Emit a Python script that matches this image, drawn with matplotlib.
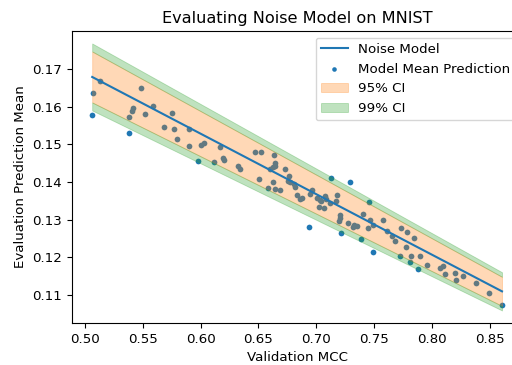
import matplotlib
matplotlib.use("Agg")
import matplotlib.pyplot as plt
import numpy as np

# Model mean predictions (validation MCC vs evaluation prediction mean)
mcc = [0.5064, 0.5075, 0.5135, 0.5489, 0.5383, 0.5409, 0.5420, 0.5386, 0.5518, 0.5587,
       0.5682, 0.5754, 0.5768, 0.5797, 0.5897, 0.5901, 0.6004, 0.6027, 0.5975, 0.6119,
       0.6171, 0.6191, 0.6205, 0.6323, 0.6337, 0.6467, 0.6518, 0.6637, 0.6505, 0.6639,
       0.6639, 0.6628, 0.6596, 0.6725, 0.6625, 0.6579, 0.6645, 0.6688, 0.6760, 0.6751,
       0.6775, 0.6806, 0.6815, 0.6829, 0.6875, 0.6861, 0.6962, 0.6947, 0.7005, 0.7027,
       0.7039, 0.7077, 0.7085, 0.7022, 0.7070, 0.7120, 0.7177, 0.7169, 0.7128, 0.7292,
       0.6936, 0.7206, 0.7200, 0.7197, 0.7269, 0.7210, 0.7321, 0.7315, 0.7355, 0.7402,
       0.7456, 0.7465, 0.7450, 0.7493, 0.7384, 0.7491, 0.7579, 0.7609, 0.7652, 0.7678,
       0.7730, 0.7786, 0.7844, 0.7778, 0.7726, 0.7816, 0.7812, 0.7896, 0.7879, 0.7959,
       0.8071, 0.8092, 0.8114, 0.8201, 0.8207, 0.8270, 0.8377, 0.8494, 0.8603]
pred_mean = [0.1577, 0.1636, 0.1668, 0.1649, 0.1573, 0.1588, 0.1596, 0.1529, 0.1582, 0.1603,
             0.1547, 0.1584, 0.1542, 0.1514, 0.1541, 0.1497, 0.1498, 0.1504, 0.1457, 0.1452,
             0.1493, 0.1464, 0.1458, 0.1443, 0.1436, 0.1480, 0.1481, 0.1473, 0.1409, 0.1450,
             0.1443, 0.1439, 0.1434, 0.1436, 0.1400, 0.1385, 0.1382, 0.1379, 0.1415, 0.1404,
             0.1399, 0.1396, 0.1387, 0.1367, 0.1358, 0.1355, 0.1380, 0.1368, 0.1359, 0.1353,
             0.1349, 0.1362, 0.1355, 0.1334, 0.1331, 0.1344, 0.1367, 0.1350, 0.1412, 0.1400,
             0.1280, 0.1313, 0.1306, 0.1296, 0.1292, 0.1266, 0.1287, 0.1280, 0.1283, 0.1314,
             0.1346, 0.1300, 0.1277, 0.1286, 0.1249, 0.1215, 0.1300, 0.1271, 0.1258, 0.1244,
             0.1278, 0.1267, 0.1252, 0.1229, 0.1203, 0.1203, 0.1187, 0.1203, 0.1170, 0.1181,
             0.1173, 0.1178, 0.1155, 0.1160, 0.1140, 0.1150, 0.1131, 0.1105, 0.1075]

# Noise model: endpoints of the mean line and its standard deviation
model_x = [0.5064, 0.8603]
model_mean = [0.1679, 0.1110]
model_sd = [0.00345, 0.00197]
z95, z99 = 1.96, 2.576

x_ticks = [0.50, 0.55, 0.60, 0.65, 0.70, 0.75, 0.80, 0.85]
y_ticks = [0.11, 0.12, 0.13, 0.14, 0.15, 0.16, 0.17]

fig = plt.figure(figsize=(5.12, 3.65), dpi=100)
ax = fig.add_axes([71.7 / 512, 42 / 365, (522.5 - 71.7) / 512, (323 - 31) / 365])

mx = np.array(model_x)
mm = np.array(model_mean)
sd = np.array(model_sd)

line, = ax.plot(mx, mm, color="C0", lw=1.5, label="Noise Model")
sc = ax.scatter(mcc, pred_mean, s=17, color="C0", linewidths=0, label="Model Mean Prediction")
f95 = ax.fill_between(mx, mm - z95 * sd, mm + z95 * sd, color="C1", alpha=0.3,
                      linewidth=0.6, label="95% CI")
f99 = ax.fill_between(mx, mm + z95 * sd, mm + z99 * sd, color="C2", alpha=0.3,
                      linewidth=0.6, label="99% CI")
ax.fill_between(mx, mm - z99 * sd, mm - z95 * sd, color="C2", alpha=0.3, linewidth=0.6)

ax.set_xlim(0.4887, 0.8780)
ax.set_ylim(0.1026, 0.1801)
ax.set_xticks(x_ticks)
ax.set_yticks(y_ticks)
ax.set_xticklabels([f"{v:.2f}" for v in x_ticks])
ax.set_yticklabels([f"{v:.2f}" for v in y_ticks])

ax.set_title("Evaluating Noise Model on MNIST", fontsize=11.6)
ax.set_xlabel("Validation MCC", fontsize=9.6)
ax.set_ylabel("Evaluation Prediction Mean", fontsize=9.6)
ax.tick_params(labelsize=9.6)
ax.legend(handles=[line, sc, f95, f99], loc="upper right", fontsize=9.6,
          borderaxespad=0.5, markerscale=0.8)

fig.savefig("out.png", dpi=100)
